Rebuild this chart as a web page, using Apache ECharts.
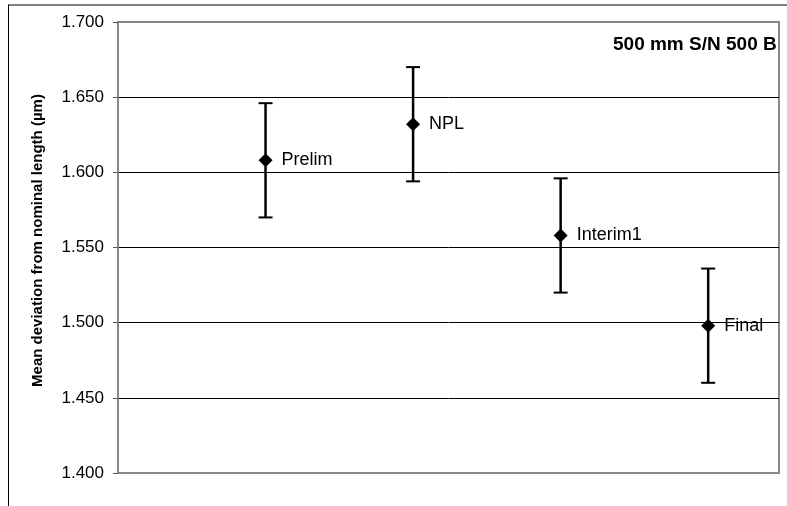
<!DOCTYPE html>
<html><head><meta charset="utf-8">
<script src="https://cdn.jsdelivr.net/npm/echarts@6/dist/echarts.min.js"></script>
<style>html,body{margin:0;padding:0;background:#fff}#c{width:787px;height:506px}</style>
</head><body><div id="c"></div>
<script>
const categories = ['Prelim', 'NPL', 'Interim1', 'Final'];
const positions = [1, 2, 3, 4];
const means = [1.608, 1.632, 1.558, 1.498];
const upper = [1.646, 1.670, 1.596, 1.536];
const lower = [1.570, 1.594, 1.520, 1.460];
const yTicks = ['1.400','1.450','1.500','1.550','1.600','1.650','1.700'];

const chart = echarts.init(document.getElementById('c'));
const pts = positions.map((p, i) => [p, means[i], categories[i]]);
const errs = positions.map((p, i) => [p, lower[i], upper[i]]);
const FONT = 'Liberation Sans, Arial, sans-serif';

chart.setOption({
  animation: false,
  textStyle: { fontFamily: FONT },
  grid: { left: 118, right: 8, top: 22, bottom: 33, show: true, borderColor: '#888', borderWidth: 2, backgroundColor: 'transparent' },
  xAxis: { type: 'value', min: 0, max: 4.48, show: false },
  yAxis: {
    type: 'value', min: 1.4, max: 1.7, interval: 0.05,
    name: 'Mean deviation from nominal length (µm)',
    nameLocation: 'middle', nameGap: 73, nameRotate: 90,
    nameTextStyle: { fontSize: 15, fontWeight: 'bold', color: '#000', padding: [0, 0, 0, 14] },
    axisLine: { show: true, lineStyle: { color: '#888', width: 2 } },
    axisTick: { show: true, inside: false, length: 5, lineStyle: { color: '#555' } },
    axisLabel: { fontSize: 17, color: '#000', margin: 14, formatter: v => yTicks[Math.round((v - 1.4) / 0.05)] },
    splitLine: { show: true, lineStyle: { color: ['#888','#000','#000','#000','#000','#000','#888'], width: 1 } }
  },
  graphic: [
    { type: 'line', shape: { x1: 8, y1: 5, x2: 787, y2: 5 }, style: { stroke: '#000', lineWidth: 1 } },
    { type: 'line', shape: { x1: 8.5, y1: 5, x2: 8.5, y2: 506 }, style: { stroke: '#000', lineWidth: 1 } },
    { type: 'text', left: 613, top: 35, style: { text: '500 mm S/N 500 B', font: 'bold 19px ' + FONT, fill: '#000' } }
  ],
  series: [
    {
      type: 'custom',
      data: errs,
      renderItem: function (params, api) {
        const x = api.value(0);
        const lo = api.coord([x, api.value(1)]);
        const hi = api.coord([x, api.value(2)]);
        const w = 7;
        const cap = { stroke: '#000', lineWidth: 2 };
        return { type: 'group', children: [
          { type: 'line', shape: { x1: lo[0], y1: lo[1], x2: hi[0], y2: hi[1] }, style: { stroke: '#000', lineWidth: 2.5 } },
          { type: 'line', shape: { x1: lo[0] - w, y1: lo[1], x2: lo[0] + w, y2: lo[1] }, style: cap },
          { type: 'line', shape: { x1: hi[0] - w, y1: hi[1], x2: hi[0] + w, y2: hi[1] }, style: cap }
        ]};
      },
      z: 2
    },
    {
      type: 'scatter',
      data: pts,
      symbol: 'diamond', symbolSize: [14, 14],
      itemStyle: { color: '#000', opacity: 1 },
      label: { show: true, position: 'right', distance: 9, formatter: p => p.data[2], fontSize: 18, color: '#000' },
      z: 3
    }
  ]
});
</script></body></html>
